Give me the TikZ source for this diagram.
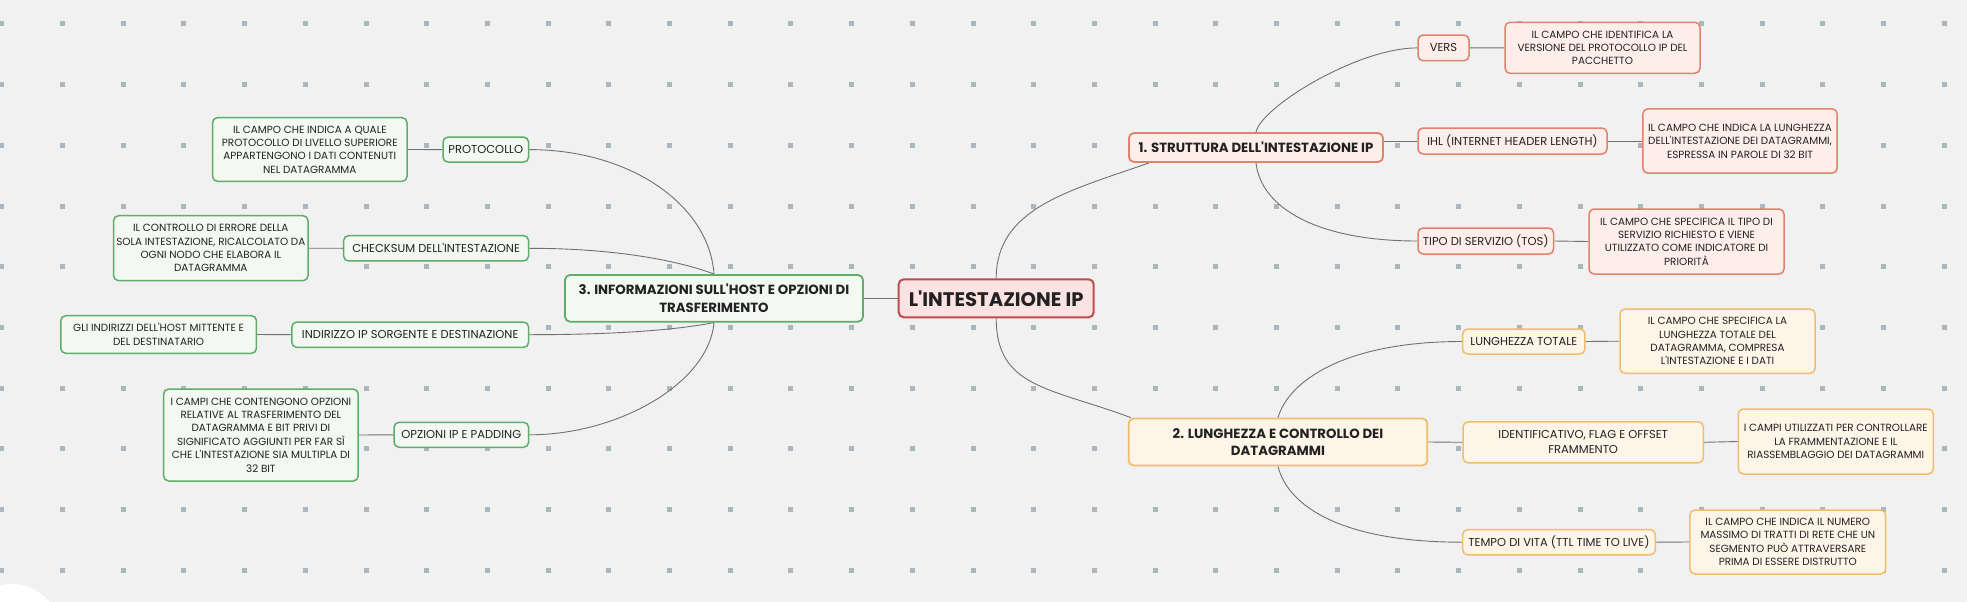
\documentclass[tikz,border=0pt]{standalone}
\usepackage{fontspec}
\setmainfont{Poppins}[Ligatures=TeXOff]
\usetikzlibrary{calc}
\definecolor{bgc}{HTML}{F1F1F1}
\definecolor{dotc}{HTML}{AAB8BD}
\definecolor{linec}{HTML}{707070}
\definecolor{rootb}{HTML}{BF4B4B}
\definecolor{rootf}{HTML}{FBE3E3}
\definecolor{redb}{HTML}{E0826E}
\definecolor{redf}{HTML}{FDEEE9}
\definecolor{ambb}{HTML}{F1BD6C}
\definecolor{ambf}{HTML}{FEF5E9}
\definecolor{grnb}{HTML}{5EAE69}
\definecolor{grnf}{HTML}{F3F8F3}
\definecolor{txt}{HTML}{222222}
\pgfdeclarelayer{back}
\pgfdeclarelayer{links}
\pgfsetlayers{back,links,main}
\newcommand\fRoot{\fontsize{19.6}{23}\selectfont\bfseries}
\newcommand\fTopic{\fontsize{13.3}{17.3}\selectfont\bfseries}
\newcommand\fLeaf{\fontsize{11.5}{15}\selectfont}
\newcommand\fDesc{\fontsize{10.4}{13.4}\selectfont}
\tikzset{
  boxbase/.style={rounded corners=5pt, align=center, inner sep=0pt, text=txt},
  root/.style={boxbase, draw=rootb, fill=rootf, line width=2pt, font=\fRoot},
  topicR/.style={boxbase, draw=redb, fill=redf, line width=1.8pt, font=\fTopic},
  topicA/.style={boxbase, draw=ambb, fill=ambf, line width=1.8pt, font=\fTopic},
  topicG/.style={boxbase, draw=grnb, fill=grnf, line width=1.8pt, font=\fTopic},
  leafR/.style={boxbase, draw=redb, fill=redf, line width=1.5pt, font=\fLeaf},
  leafA/.style={boxbase, draw=ambb, fill=ambf, line width=1.5pt, font=\fLeaf},
  leafG/.style={boxbase, draw=grnb, fill=grnf, line width=1.5pt, font=\fLeaf},
  descR/.style={boxbase, draw=redb, fill=redf, line width=1.5pt, font=\fDesc},
  descA/.style={boxbase, draw=ambb, fill=ambf, line width=1.5pt, font=\fDesc},
  descG/.style={boxbase, draw=grnb, fill=grnf, line width=1.5pt, font=\fDesc},
  conn/.style={draw=linec, line width=0.9pt},
}
\begin{document}
\begin{tikzpicture}[x=1pt,y=-1pt]
\useasboundingbox (0,0) rectangle (1967,602);
% ---------- nodes ----------
\node[root, minimum width=195pt, minimum height=38pt] (c) at (996.2,298.3) {L'INTESTAZIONE IP};
% left branch
\node[topicG, minimum width=298pt, minimum height=46.7pt] (n3) at (714,298.3) {3. INFORMAZIONI SULL'HOST E OPZIONI DI\\TRASFERIMENTO};
\node[leafG, minimum width=85.6pt, minimum height=25pt] (p) at (485.8,149.6) {PROTOCOLLO};
\node[descG, minimum width=194.5pt, minimum height=63.7pt] (pd) at (309.8,149.5) {IL CAMPO CHE INDICA A QUALE\\PROTOCOLLO DI LIVELLO SUPERIORE\\APPARTENGONO I DATI CONTENUTI\\NEL DATAGRAMMA};
\node[leafG, minimum width=185pt, minimum height=25.3pt] (cs) at (436.1,248.3) {CHECKSUM DELL'INTESTAZIONE};
\node[descG, minimum width=194.4pt, minimum height=65pt] (csd) at (210.8,248.2) {IL CONTROLLO DI ERRORE DELLA\\SOLA INTESTAZIONE, RICALCOLATO DA\\OGNI NODO CHE ELABORA IL\\DATAGRAMMA};
\node[leafG, minimum width=236.8pt, minimum height=25.3pt] (ip) at (410.2,334.7) {INDIRIZZO IP SORGENTE E DESTINAZIONE};
\node[descG, minimum width=195.7pt, minimum height=37.6pt] (ipd) at (158.6,334.5) {GLI INDIRIZZI DELL'HOST MITTENTE E\\DEL DESTINATARIO};
\node[leafG, minimum width=134.6pt, minimum height=25pt] (op) at (461.3,434.8) {OPZIONI IP E PADDING};
\node[descG, minimum width=194.6pt, minimum height=92pt] (opd) at (260.9,435) {I CAMPI CHE CONTENGONO OPZIONI\\RELATIVE AL TRASFERIMENTO DEL\\DATAGRAMMA E BIT PRIVI DI\\SIGNIFICATO AGGIUNTI PER FAR SÌ\\CHE L'INTESTAZIONE SIA MULTIPLA DI\\32 BIT};
% right upper branch
\node[topicR, minimum width=254pt, minimum height=29pt] (n1) at (1256,147.5) {1. STRUTTURA DELL'INTESTAZIONE IP};
\node[leafR, minimum width=51pt, minimum height=25.7pt] (v) at (1443.5,47.9) {VERS};
\node[descR, minimum width=195pt, minimum height=51pt] (vd) at (1602.5,47.8) {IL CAMPO CHE IDENTIFICA LA\\VERSIONE DEL PROTOCOLLO IP DEL\\PACCHETTO};
\node[leafR, minimum width=189pt, minimum height=26pt] (ihl) at (1512.5,141) {IHL (INTERNET HEADER LENGTH)};
\node[descR, minimum width=194.3pt, minimum height=64.3pt] (ihld) at (1740,141) {IL CAMPO CHE INDICA LA LUNGHEZZA\\DELL'INTESTAZIONE DEI DATAGRAMMI,\\ESPRESSA IN PAROLE DI 32 BIT};
\node[leafR, minimum width=135.6pt, minimum height=26pt] (tos) at (1485.8,241) {TIPO DI SERVIZIO (TOS)};
\node[descR, minimum width=195pt, minimum height=65pt] (tosd) at (1686.5,241.5) {IL CAMPO CHE SPECIFICA IL TIPO DI\\SERVIZIO RICHIESTO E VIENE\\UTILIZZATO COME INDICATORE DI\\PRIORITÀ};
% right lower branch
\node[topicA, minimum width=298.6pt, minimum height=47pt] (n2) at (1278,442) {2. LUNGHEZZA E CONTROLLO DEI\\DATAGRAMMI};
\node[leafA, minimum width=122.3pt, minimum height=25pt] (lt) at (1523.8,341.5) {LUNGHEZZA TOTALE};
\node[descA, minimum width=195pt, minimum height=64.3pt] (ltd) at (1717.5,341.2) {IL CAMPO CHE SPECIFICA LA\\LUNGHEZZA TOTALE DEL\\DATAGRAMMA, COMPRESA\\L'INTESTAZIONE E I DATI};
\node[leafA, minimum width=240.3pt, minimum height=41pt] (id) at (1583.2,442.3) {IDENTIFICATIVO, FLAG E OFFSET\\FRAMMENTO};
\node[descA, minimum width=195pt, minimum height=65pt] (idd) at (1835.8,441.5) {I CAMPI UTILIZZATI PER CONTROLLARE\\LA FRAMMENTAZIONE E IL\\RIASSEMBLAGGIO DEI DATAGRAMMI};
\node[leafA, minimum width=192.6pt, minimum height=25.3pt] (ttl) at (1559,542.2) {TEMPO DI VITA (TTL TIME TO LIVE)};
\node[descA, minimum width=195.7pt, minimum height=64pt] (ttld) at (1787.8,542) {IL CAMPO CHE INDICA IL NUMERO\\MASSIMO DI TRATTI DI RETE CHE UN\\SEGMENTO PUÒ ATTRAVERSARE\\PRIMA DI ESSERE DISTRUTTO};
% ---------- background and dots ----------
\begin{pgfonlayer}{back}
\fill[bgc] (0,0) rectangle (1967,602);
\foreach \i in {0,...,32}{
  \foreach \j in {0,...,9}{
    \fill[dotc] ({1.8+60.7*\i-2.5},{24+60.7*\j-2.5}) rectangle ++(5,5);
  }
}
\fill[white] (12,632) circle[radius=48];
\end{pgfonlayer}
% ---------- connectors ----------
\begin{pgfonlayer}{links}
\draw[conn] (n3.east) -- (c.west);
\draw[conn] (c.north) .. controls +(0,-70) and +(-80,28) .. ($(n1.south west)+(21,0)$);
\draw[conn] (c.south) .. controls +(0,70) and +(-80,-30) .. ($(n2.north west)+(3,0)$);
% left
\draw[conn] (n3.north) .. controls +(-5,-70) and +(100,0) .. (p.east);
\draw[conn] (n3.north) .. controls +(-40,-15) and +(80,0) .. (cs.east);
\draw[conn] (n3.south) .. controls +(-40,8) and +(80,0) .. (ip.east);
\draw[conn] (n3.south) .. controls +(-5,60) and +(90,0) .. (op.east);
\draw[conn] (p.west) -- (pd.east);
\draw[conn] (cs.west) -- (csd.east);
\draw[conn] (ip.west) -- (ipd.east);
\draw[conn] (op.west) -- (opd.east);
% right upper
\draw[conn] (n1.north) .. controls +(5,-25) and +(-60,0) .. (v.west);
\draw[conn] (n1.east |- ihl.west) -- (ihl.west);
\draw[conn] (n1.south) .. controls +(5,45) and +(-100,0) .. (tos.west);
\draw[conn] (v.east) -- (vd.west);
\draw[conn] (ihl.east) -- (ihld.west);
\draw[conn] (tos.east) -- (tosd.west);
% right lower
\draw[conn] (n2.north) .. controls +(10,-35) and +(-120,0) .. (lt.west);
\draw[conn] (n2.east) -- (id.west);
\draw[conn] (n2.south) .. controls +(10,40) and +(-120,0) .. (ttl.west);
\draw[conn] (lt.east) -- (ltd.west);
\draw[conn] (id.east) -- (idd.west);
\draw[conn] (ttl.east) -- (ttld.west);
\end{pgfonlayer}
\end{tikzpicture}
\end{document}
